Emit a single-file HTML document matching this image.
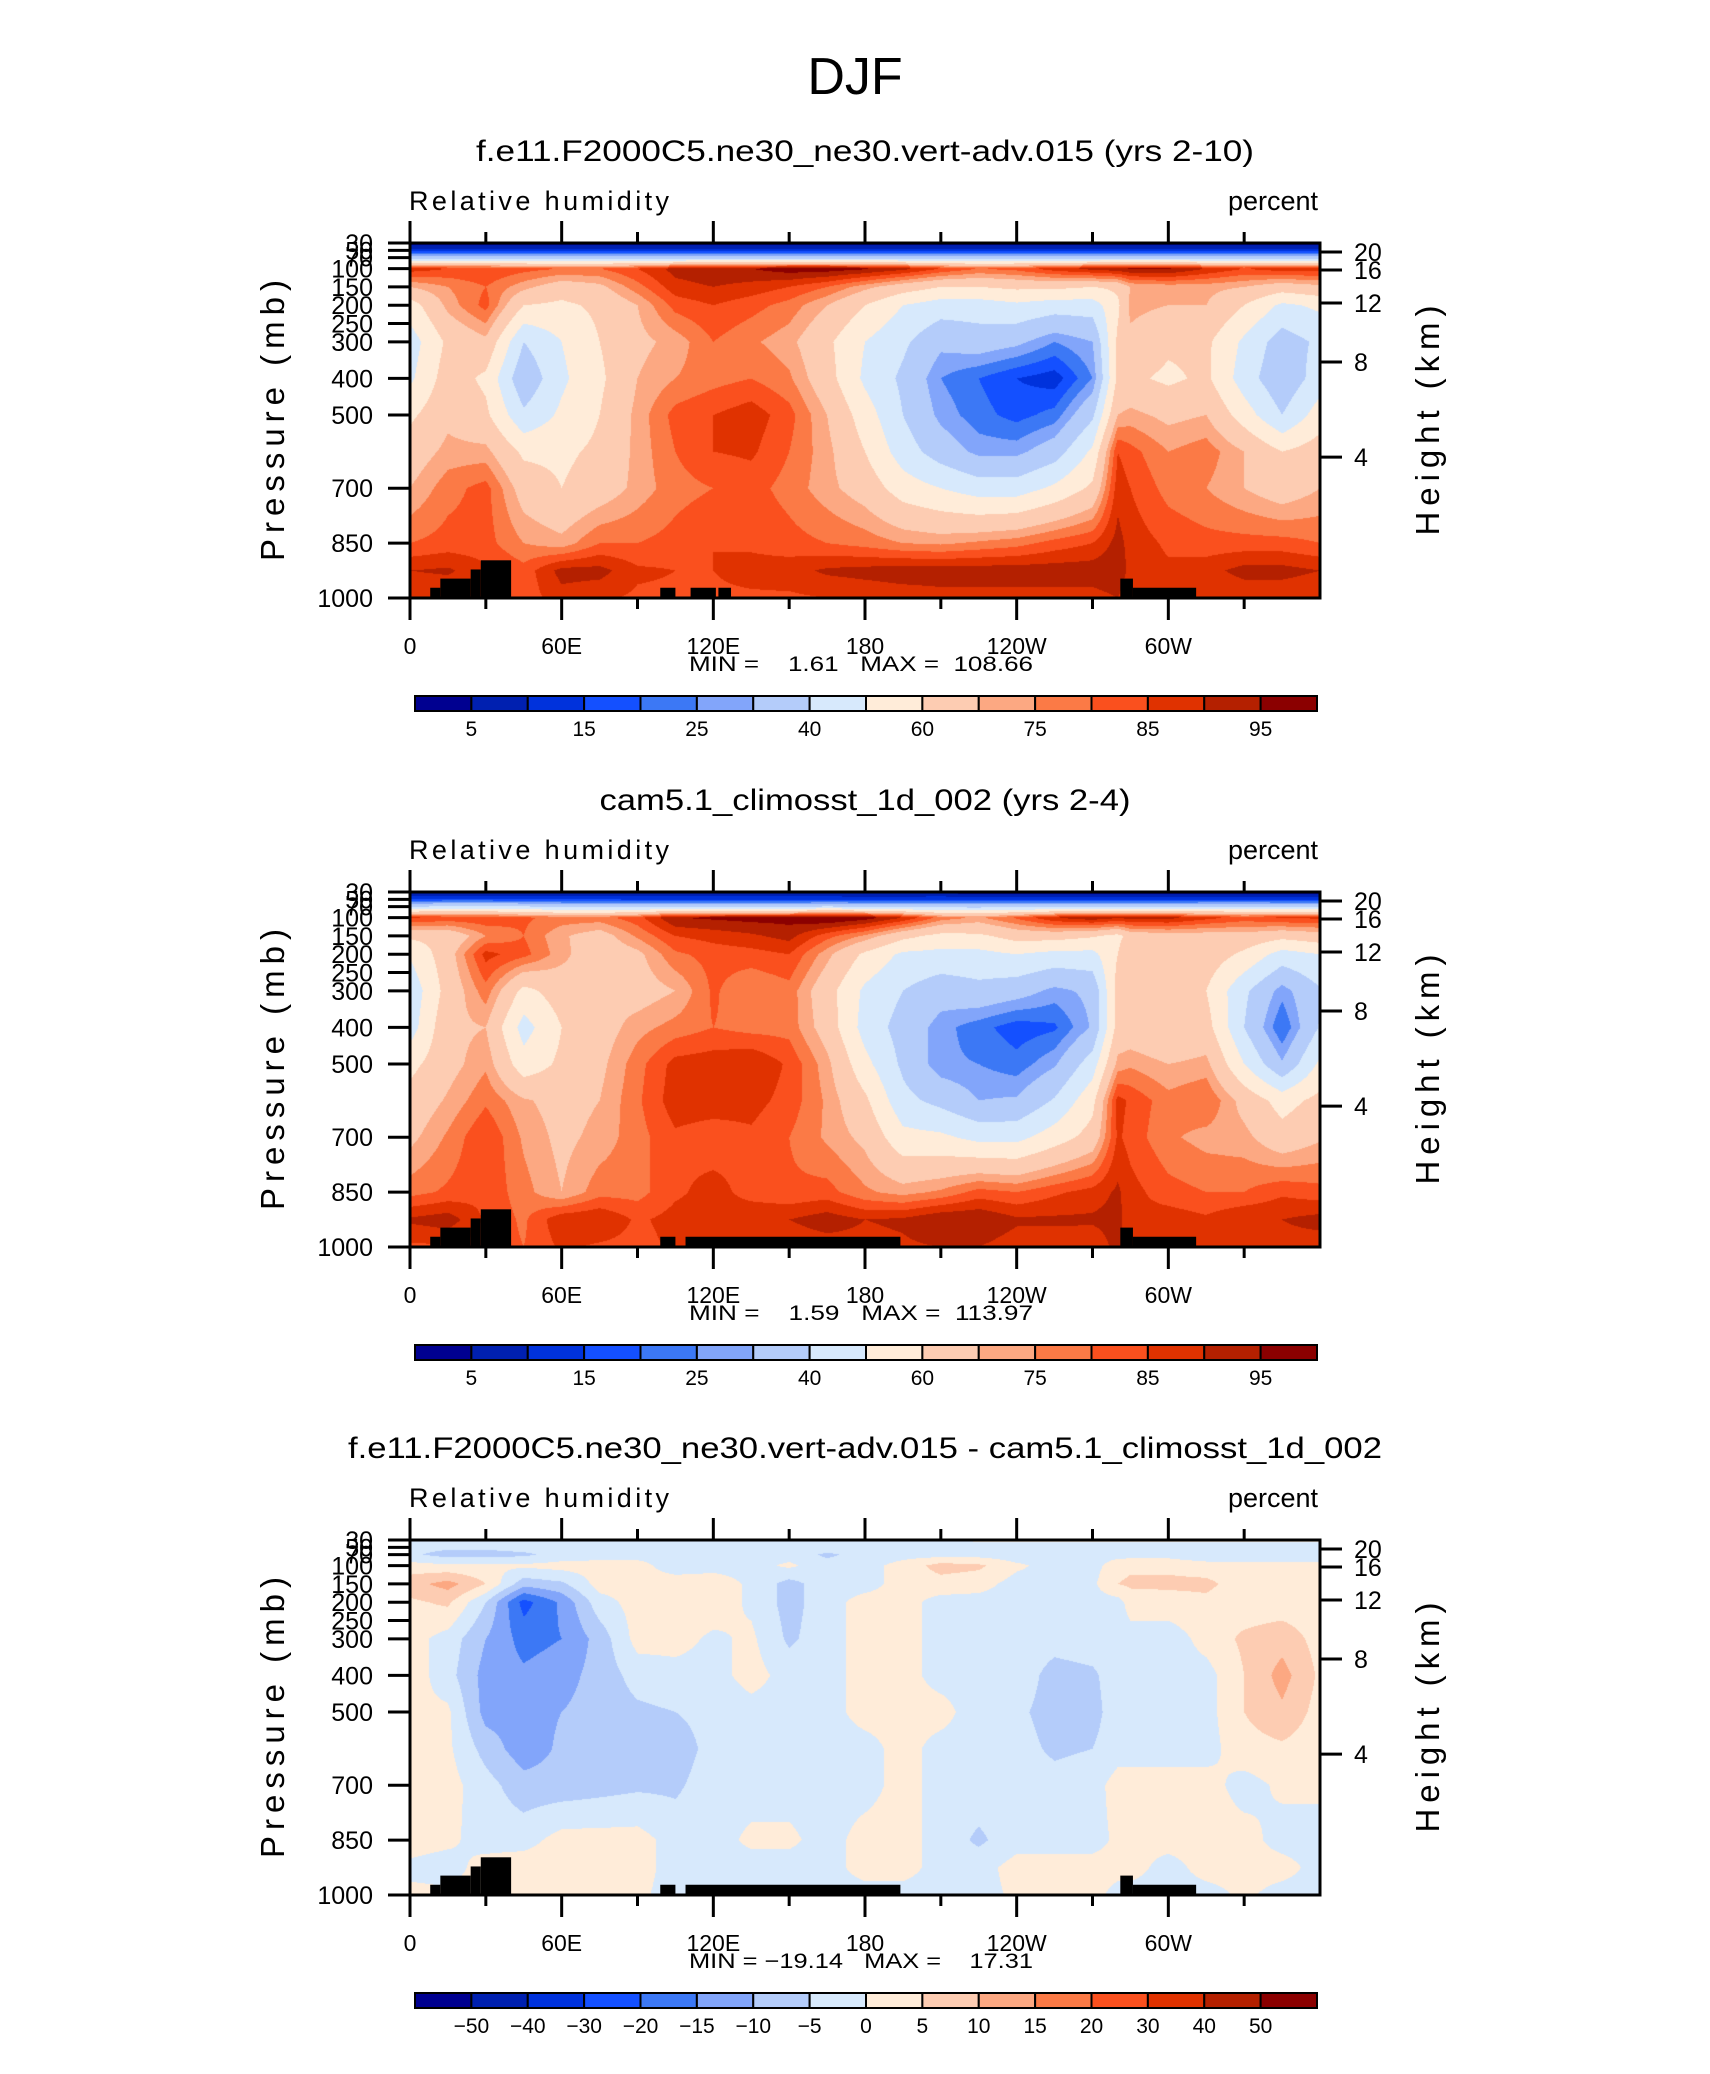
<!DOCTYPE html>
<html><head><meta charset="utf-8"><style>
html,body{margin:0;padding:0;background:#fff}
#root{position:relative;width:1710px;height:2074px;background:#fff;overflow:hidden}
canvas{position:absolute}
svg{position:absolute;left:0;top:0}
text{font-family:"Liberation Sans",sans-serif;fill:#000}
</style></head><body>
<div id="root">
<svg id="ov" width="1710" height="2074"></svg>
</div>
<script>
// ---- data ----
const lons = [0,15,30,45,60,75,90,105,120,135,150,165,180,195,210,225,240,255,270,280,285,300,315,330,345,360];
const plevs = [30,50,70,100,150,200,300,400,500,600,700,850,925,1000];
const rhLevels = [5,10,15,20,25,30,40,50,60,70,75,80,85,90,95];
const diffLevels = [-50,-40,-30,-20,-15,-10,-5,0,5,10,15,20,30,40,50];
const rhLabels = ["5","15","25","40","60","75","85","95"];
const diffLabels = ["−50","−40","−30","−20","−15","−10","−5","0","5","10","15","20","30","40","50"];
const lonTickLabels = ["0","60E","120E","180","120W","60W"];
const pTickValues = [30,50,70,100,150,200,250,300,400,500,700,850,1000];
const hTickLabels = ["20","16","12","8","4"];
const hTickPressures = [54.6,103.8,194,355,615];
// panel 1 columns (p30..p1000)
const rh1 = [
[2,12,35,88,70,55,45,48,58,65,70,80,90,85],
[2,12,35,85,75,72,62,65,68,72,78,82,91,85],
[2,12,35,85,80,82,68,58,62,72,82,82,86,85],
[2,12,35,82,72,60,40,32,42,58,66,75,82,82],
[2,12,35,80,65,58,50,48,52,58,60,72,92,88],
[2,12,35,80,68,62,60,58,60,62,65,80,92,86],
[2,12,35,85,78,70,68,70,72,72,72,80,86,84],
[2,12,35,92,88,82,72,75,82,80,78,82,85,84],
[2,12,35,94,90,85,80,78,85,85,80,85,85,84],
[2,12,35,95,88,82,76,80,88,86,82,84,87,84],
[2,12,35,98,85,78,72,76,82,80,78,82,88,84],
[2,12,35,98,80,70,62,64,70,72,72,80,91,85],
[2,12,35,96,72,60,50,48,55,60,66,78,92,86],
[2,12,35,92,65,50,42,38,40,45,55,75,93,87],
[2,12,35,85,60,45,32,25,28,35,50,74,93,88],
[2,12,35,80,60,45,35,20,22,28,45,76,93,88],
[2,12,35,82,62,48,32,15,18,28,45,78,93,88],
[2,12,35,88,62,45,25,12,22,35,52,82,93,88],
[2,12,35,92,60,45,30,25,38,52,62,85,93,88],
[2,12,35,94,62,58,62,62,70,85,88,92,94,90],
[2,12,35,96,70,72,68,62,72,82,85,88,88,86],
[2,12,35,96,72,70,62,58,68,75,78,84,86,85],
[2,12,35,90,72,70,62,62,70,78,75,82,88,85],
[2,12,35,85,70,60,48,45,55,70,70,82,92,86],
[2,12,35,88,65,48,35,32,40,60,65,82,92,86],
[2,12,35,88,68,52,42,45,55,65,70,80,90,85]];
// difference (panel1 - panel2) columns
const diff = [
[-2,-3,-4,2,8,4,2,3,1,1,2,2,-1,1],
[-2,-4,-7,1,12,6,-2,-3,1,1,2,1,-2,1],
[-2,-4,-7,1,5,-5,-10,-12,-12,-7,-3,-2,2,2],
[-2,-3,-6,1,-8,-22,-17,-14,-12,-13,-8,-2,3,2],
[-2,-3,-3,2,-6,-14,-15,-12,-10,-9,-8,2,3,2],
[-2,-3,-2,2,2,-2,-8,-8,-8,-8,-7,2,2,2],
[-2,-2,-2,2,2,2,2,-3,-6,-7,-6,2,2,1],
[-2,-2,-2,-3,3,3,2,-2,-5,-8,-6,-2,-2,-2],
[-2,-2,-3,-2,3,3,-1,-2,-3,-3,-2,-2,-2,-2],
[-2,-2,-2,-2,-1,-1,1,2,-2,-1,-2,1,-2,-2],
[-2,-2,-2,1,-7,-7,-6,-2,-2,-3,-2,1,-2,-2],
[-2,-2,-6,-3,-2,-2,-2,-2,-2,-2,-2,-2,-2,-2],
[-1,-2,-3,-2,-2,2,2,2,2,-2,-2,2,2,-2],
[-1,-2,-2,2,2,2,2,2,2,2,2,2,2,-2],
[-2,-2,-2,7,3,-2,-2,-2,2,-2,-2,-2,-2,-2],
[1,-2,-2,6,2,-2,-2,-2,-3,-2,-2,-6,-2,-2],
[1,-2,-3,1,-2,-2,-2,-2,-4,-3,-2,-2,2,1],
[1,-2,-2,-2,-2,-2,-3,-7,-7,-6,-3,-2,2,1],
[1,-2,-2,-2,-1,-2,-2,-6,-7,-5,-2,-2,2,2],
[1,-2,-2,3,5,-2,-2,-2,-2,-2,2,1,2,-2],
[1,-2,-2,4,6,2,-2,-2,-2,-2,2,1,2,-2],
[1,-2,-2,4,6,3,-3,-2,-2,-2,2,2,-2,-2],
[1,-2,-5,3,6,4,2,-2,-2,-2,2,2,2,-2],
[1,-2,-5,2,3,2,6,5,5,3,-2,2,2,1],
[1,-2,-4,2,2,2,8,12,9,4,1,-2,2,-2],
[1,-2,-4,2,2,2,3,4,3,2,1,-2,-2,-2]];
const topo1 = [[8,12,972],[12,24,947],[24,28,922],[28,40,897],[99,105,972],[111,121,972],[122,127,972],[281,286,947],[286,311,972]];
const topo2 = [[8,12,972],[12,24,947],[24,28,922],[28,40,897],[99,105,972],[109,194,972],[281,286,947],[286,311,972]];
const titles = ["f.e11.F2000C5.ne30_ne30.vert-adv.015 (yrs 2-10)","cam5.1_climosst_1d_002 (yrs 2-4)","f.e11.F2000C5.ne30_ne30.vert-adv.015 - cam5.1_climosst_1d_002"];
const minmax = ["MIN =    1.61   MAX =  108.66","MIN =    1.59   MAX =  113.97","MIN = −19.14   MAX =    17.31"];

const colors = ["#000090","#0020b0","#0032dc","#1450ff","#3c78f5","#82a5fa","#b4ccfa","#d7e9fc","#ffecd9","#fdccb2","#fca882","#fb7a46","#fa501e","#e03200","#b42000","#8b0000"];

// ---- geometry ----
const X0=410, X1=1320, H=355;
const tops=[243,892,1540];
const xOf = lon => X0 + lon/360*(X1-X0);
const yOf = (p,T) => T + (p-30)/970*H;

const rh2 = rh1.map((col,i)=>col.map((v,j)=>v - diff[i][j]));
const fields = [rh1, rh2, diff];
const levelSets = [rhLevels, rhLevels, diffLevels];
const topos = [topo1, topo2, topo2];

function findIdx(arr,v){let i=0;while(i<arr.length-2&&v>arr[i+1])i++;return [i,(v-arr[i])/(arr[i+1]-arr[i])];}
function hexRGB(h){return [parseInt(h.substr(1,2),16),parseInt(h.substr(3,2),16),parseInt(h.substr(5,2),16)];}
const rgb = colors.map(hexRGB);

const root=document.getElementById('root');
const NS="http://www.w3.org/2000/svg";
const ov=document.getElementById('ov');
function mk(tag,attrs,parent){const e=document.createElementNS(NS,tag);for(const k in attrs)e.setAttribute(k,attrs[k]);(parent||ov).appendChild(e);return e;}

let djf=mk('text',{x:855,y:94,'font-size':52,'text-anchor':'middle'});djf.textContent="DJF";



fields.forEach((F,k)=>{
  const T=tops[k], levels=levelSets[k];
  const W=X1-X0;
  const cv=document.createElement('canvas');
  cv.width=W;cv.height=H;cv.style.left=X0+'px';cv.style.top=T+'px';
  
  
  root.insertBefore(cv,ov);
  const ctx=cv.getContext('2d');
  const img=ctx.createImageData(W,H);
  const xi=[];for(let x=0;x<W;x++)xi.push(findIdx(lons,(x+0.5)/W*360));
  for(let y=0;y<H;y++){
    const [j,fy]=findIdx(plevs,30+(y+0.5)/H*970);
    for(let x=0;x<W;x++){
      const [i,fx]=xi[x];
      const v=(F[i][j]*(1-fx)+F[i+1][j]*fx)*(1-fy)+(F[i][j+1]*(1-fx)+F[i+1][j+1]*fx)*fy;
      let c=0;while(c<levels.length&&v>=levels[c])c++;
      const o=(y*W+x)*4,col=rgb[c];
      img.data[o]=col[0];img.data[o+1]=col[1];img.data[o+2]=col[2];img.data[o+3]=255;
    }
  }
  ctx.putImageData(img,0,0);

  const g=mk('g',{});
  
  
  topos[k].forEach(t=>{
    const r=mk('rect',{x:xOf(t[0]),y:yOf(t[2],T),width:xOf(t[1])-xOf(t[0]),height:yOf(1000,T)-yOf(t[2],T),fill:'#000'},g);
    
    
  });
  const fr=mk('rect',{x:X0,y:T,width:X1-X0,height:H,fill:'none',stroke:'#000','stroke-width':3},g);
  
  
  for(let lon=0;lon<360;lon+=30){
    const x=xOf(lon), L=(lon%60===0)?22:11;
    mk('line',{x1:x,y1:T+H,x2:x,y2:T+H+L,stroke:'#000','stroke-width':3},g);
    mk('line',{x1:x,y1:T,x2:x,y2:T-L,stroke:'#000','stroke-width':3},g);
  }
  lonTickLabels.forEach((lb,i)=>{
    const t=mk('text',{x:xOf(i*60),y:T+H+56,'font-size':23,'text-anchor':'middle'},g);t.textContent=lb;
    
    
  });
  pTickValues.forEach(p=>{
    const y=yOf(p,T);
    mk('line',{x1:X0-22,y1:y,x2:X0,y2:y,stroke:'#000','stroke-width':3},g);
    const t=mk('text',{x:373,y:y+9,'font-size':25,'text-anchor':'end'},g);t.textContent=p;
    
    
  });
  hTickPressures.forEach((p,i)=>{
    const y=yOf(p,T);
    mk('line',{x1:X1,y1:y,x2:X1+22,y2:y,stroke:'#000','stroke-width':3},g);
    const t=mk('text',{x:1354,y:y+9,'font-size':25},g);t.textContent=hTickLabels[i];
    
    
  });
  const yt=mk('text',{x:0,y:0,'font-size':33,'text-anchor':'middle',transform:`translate(284,${T+H/2}) rotate(-90)`,textLength:281,lengthAdjust:'spacing'},g);
  yt.textContent="Pressure  (mb)";
  
  
  const ht=mk('text',{x:0,y:0,'font-size':33,'text-anchor':'middle',transform:`translate(1439,${T+H/2}) rotate(-90)`,textLength:230,lengthAdjust:'spacing'},g);
  ht.textContent="Height  (km)";
  
  
  const widths=[778,531,1034];
  const pt=mk('text',{x:865,y:T-82,'font-size':30,'text-anchor':'middle',textLength:widths[k],lengthAdjust:'spacingAndGlyphs'},g);
  pt.textContent=titles[k];
  
  
  const lt=mk('text',{x:409,y:T-33,'font-size':27,textLength:260,lengthAdjust:'spacing'},g);lt.textContent="Relative  humidity";
  
  
  const rt=mk('text',{x:1318,y:T-33,'font-size':27,'text-anchor':'end'},g);rt.textContent="percent";
  
  
  const mm=mk('text',{x:861,y:T+H+73,'font-size':21,'text-anchor':'middle',style:'white-space:pre',textLength:344,lengthAdjust:'spacingAndGlyphs'},g);
  mm.textContent=minmax[k];
  
  
  const cb=mk('g',{},g);
  
  
  const cbL=415, cbR=1317, cbT=T+453, bw=(cbR-cbL)/colors.length;
  colors.forEach((c,i)=>{
    const r=mk('rect',{x:cbL+i*bw,y:cbT,width:bw,height:15,fill:c,stroke:'#000','stroke-width':2},cb);
    
    
  });
  const labs = k<2 ? rhLabels : diffLabels;
  labs.forEach((lb,i)=>{
    const b = k<2 ? 2*i+1 : i+1;
    const t=mk('text',{x:cbL+b*bw,y:cbT+40,'font-size':21,'text-anchor':'middle'},cb);t.textContent=lb;
    
    
  });
});
</script>
</body></html>
